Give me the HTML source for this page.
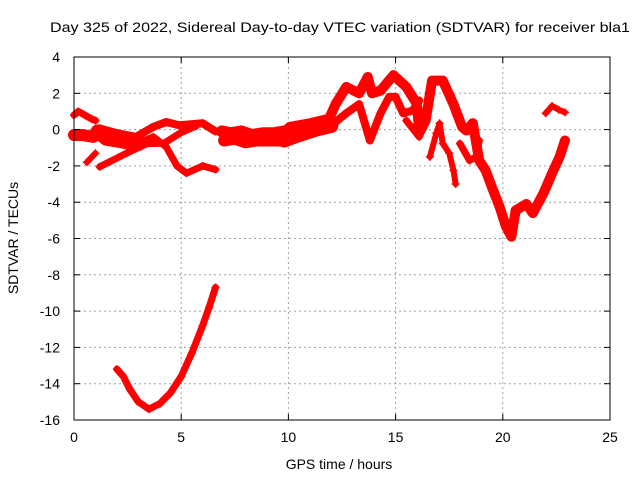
<!DOCTYPE html>
<html><head><meta charset="utf-8"><style>
html,body{margin:0;padding:0;background:#fff;}
svg{display:block;font-family:"Liberation Sans",sans-serif;}
</style></head><body>
<svg id="chart" width="640" height="480" viewBox="0 0 640 480" xmlns="http://www.w3.org/2000/svg">
<rect x="0" y="0" width="640" height="480" fill="#fff"/>
<g id="grid"></g>
<g id="series"></g>
<g id="axes"></g>
<text x="340" y="32" font-size="14" text-anchor="middle" textLength="580" lengthAdjust="spacingAndGlyphs">Day 325 of 2022, Sidereal Day-to-day VTEC variation (SDTVAR) for receiver bla1</text>
<text x="339" y="469" font-size="14" text-anchor="middle">GPS time / hours</text>
<text x="0" y="0" font-size="14" text-anchor="middle" transform="translate(18,238) rotate(-90)">SDTVAR / TECUs</text>
</svg>
<script>
const xTicks = [0, 5, 10, 15, 20, 25];
const yTicks = [4, 2, 0, -2, -4, -6, -8, -10, -12, -14, -16];
const trackA = [[0,0.8],[0.2,1.0],[0.5,0.8],[0.8,0.6],[1.0,0.5]];
const trackB = [[0,-0.3],[0.4,-0.3],[0.9,-0.4]];
const trackC = [[1.2,0.07],[2.0,-0.2],[2.9,-0.4],[3.7,0.15],[4.3,0.42],[4.9,0.24],[6.0,0.35],[6.6,-0.1]];
const trackD = [[1.05,-0.4],[2.6,-0.95],[3.7,-0.4],[4.3,-0.95],[4.8,-2.0],[5.25,-2.4],[6.0,-2.0],[6.6,-2.2]];
const trackE = [[1.2,-2.05],[2.45,-1.3],[3.4,-0.77],[4.2,-0.75],[4.94,-0.2],[5.7,0.2]];
const trackF = [[0.6,-1.8],[1.0,-1.3]];
const trackG = [[1.1,-0.1],[1.5,-0.5],[2.0,-0.6],[2.5,-0.7],[3.0,-0.8]];
const trackH = [[6.9,-0.1],[7.3,-0.2],[7.8,-0.1],[8.3,-0.3],[8.8,-0.2],[9.3,-0.2],[9.8,-0.1]];
const trackH2 = [[7.0,-0.6],[7.5,-0.5],[8.0,-0.7],[8.5,-0.6],[9.0,-0.6],[9.6,-0.6]];
const trackI = [[9.6,-0.4],[10.06,0.15],[11.0,0.35],[11.9,0.6],[12.2,1.4],[12.7,2.35],[13.3,2.0],[13.7,2.9],[13.9,2.0],[14.3,2.15],[14.9,3.0],[15.5,2.35],[16.0,1.4],[16.1,-0.2],[16.4,0.5],[16.7,2.7],[17.2,2.7],[17.7,1.4],[18.1,0.15],[18.3,-0.05],[18.6,0.35]];
const trackI2 = [[9.8,-0.6],[10.5,-0.3],[11.3,0.0],[12.0,0.2]];
const trackJ = [[12.1,0.33],[12.7,0.9],[13.3,1.4],[13.8,-0.6],[14.3,0.9],[14.7,1.8],[15.0,1.8],[15.35,0.9],[15.8,1.05],[16.1,1.6]];
const trackJ2 = [[15.5,0.5],[16.1,-0.4]];
const trackK = [[16.6,-1.5],[16.9,-0.2],[17.05,0.35],[17.2,-0.77],[17.5,-1.3],[17.7,-2.25],[17.8,-3.0]];
const trackL = [[18.0,-0.77],[18.45,-1.7],[18.75,-1.5],[18.9,-0.6]];
const trackM = [[18.6,0.35],[18.9,-1.7],[19.2,-2.25],[19.5,-3.2],[19.85,-4.25],[20.15,-5.35],[20.4,-5.9],[20.6,-4.45],[21.1,-4.1],[21.4,-4.6],[21.9,-3.5],[22.3,-2.4],[22.65,-1.5],[22.9,-0.6]];
const trackN = [[22.0,0.9],[22.3,1.3],[22.6,1.1],[22.9,0.95]];
const trackBottom = [[2.0,-13.2],[2.3,-13.6],[2.6,-14.3],[3.0,-15.0],[3.5,-15.4],[4.0,-15.1],[4.5,-14.5],[5.0,-13.6],[5.5,-12.3],[6.0,-10.8],[6.3,-9.8],[6.6,-8.7]];

const X0=74, X1=610, Y0=420, Y1=57;
function xs(v){return X0+(v-0)/(25-0)*(X1-X0);}
function ys(v){return Y0-(v+16)/(4+16)*(Y0-Y1);}
const NS="http://www.w3.org/2000/svg";
function mk(tag,attrs,parent){const e=document.createElementNS(NS,tag);for(const k in attrs)e.setAttribute(k,attrs[k]);parent.appendChild(e);return e;}
const grid=document.getElementById('grid'), axes=document.getElementById('axes'), series=document.getElementById('series');
xTicks.forEach(t=>{
  if(t>0&&t<25){const l=mk('line',{x1:xs(t),x2:xs(t),y1:Y1,y2:Y0,stroke:'#a0a0a0','stroke-dasharray':'2,3'},grid);
  
  }
  mk('line',{x1:xs(t),x2:xs(t),y1:Y0,y2:Y0-6,stroke:'#000'},axes);
  mk('line',{x1:xs(t),x2:xs(t),y1:Y1,y2:Y1+6,stroke:'#000'},axes);
  const tx=mk('text',{x:xs(t),y:442,'font-size':14,'text-anchor':'middle'},axes);
  tx.textContent=t;
  
  
});
yTicks.forEach(t=>{
  if(t<4&&t>-16){const l=mk('line',{x1:X0,x2:X1,y1:ys(t),y2:ys(t),stroke:'#a0a0a0','stroke-dasharray':'2,3'},grid);
  
  }
  mk('line',{x1:X0,x2:X0+6,y1:ys(t),y2:ys(t),stroke:'#000'},axes);
  mk('line',{x1:X1,x2:X1-6,y1:ys(t),y2:ys(t),stroke:'#000'},axes);
  const tx=mk('text',{x:60,y:ys(t)+5,'font-size':14,'text-anchor':'end'},axes);
  tx.textContent=t;
  
  
});
const frame=mk('rect',{x:X0,y:Y1,width:X1-X0,height:Y0-Y1,fill:'none',stroke:'#000'},axes);


const tracks=[[trackA,7],[trackB,12],[trackC,8],[trackD,7],[trackE,7],[trackF,6],[trackG,14],[trackH,12],[trackH2,12],[trackI,10],[trackI2,14],[trackJ,8],[trackJ2,7],[trackK,6],[trackL,7],[trackM,10],[trackN,6],[trackBottom,7]];
tracks.forEach(([tr,w])=>{
  const pts=tr.map(p=>xs(p[0])+','+ys(p[1])).join(' ');
  const pl=mk('polyline',{points:pts,fill:'none',stroke:'#ff0000','stroke-width':w,'stroke-linejoin':'round','stroke-linecap':'round'},series);
  
  
  tr.forEach(p=>{
    const m=mk('path',{d:`M${xs(p[0])-4},${ys(p[1])}h8M${xs(p[0])},${ys(p[1])-4}v8`,stroke:'#ff0000','stroke-width':1.5},series);
    
    
  });
});
</script>
</body></html>
